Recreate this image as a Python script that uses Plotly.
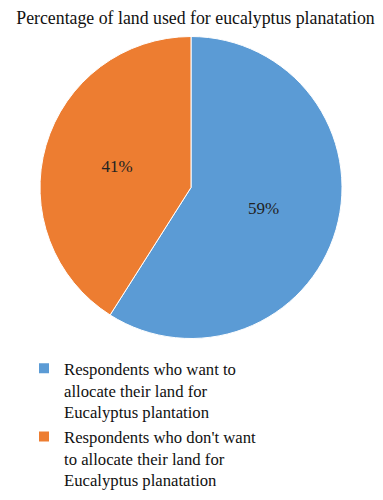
import plotly.graph_objects as go

labels = [
    "Respondents who want to<br>allocate their land for<br>Eucalyptus plantation",
    "Respondents who don't want<br>to allocate their land for<br>Eucalyptus planatation",
]
values = [59, 41]
colors = ["#5B9BD5", "#ED7D31"]
title = "Percentage of land used for eucalyptus planatation"

font_family = "Liberation Serif"

# page body has an 8px margin; figure is sized to fit the 383x500 window
W, H, OFF = 375, 492, 8
def px(x):
    return (x - OFF) / W
def py(y):
    return 1 - (y - OFF) / H

fig = go.Figure(go.Pie(
    labels=labels,
    values=values,
    sort=False,
    direction="clockwise",
    rotation=0,
    marker=dict(colors=colors, line=dict(color="white", width=1)),
    texttemplate="%{percent:.0%}",
    textposition="inside",
    insidetextorientation="horizontal",
    textfont=dict(family=font_family, size=17, color="#222222"),
    domain=dict(x=[px(40), px(342)], y=[py(339), py(36)]),
    hoverinfo="label+percent",
))

fig.update_layout(
    width=W, height=H,
    margin=dict(l=0, r=0, t=0, b=0, autoexpand=False),
    paper_bgcolor="white",
    plot_bgcolor="white",
    font=dict(family=font_family, color="#111111"),
    title=dict(text=title, x=0.5, xanchor="center", y=py(18), yanchor="middle",
               font=dict(family=font_family, size=17.8, color="#111111")),
    legend=dict(
        x=px(24), y=py(351), xanchor="left", yanchor="top",
        font=dict(family=font_family, size=16.7, color="#111111"),
        valign="top",
        tracegroupgap=4,
        itemsizing="constant",
        traceorder="normal",
    ),
    showlegend=True,
)

fig.write_html("out.html")
